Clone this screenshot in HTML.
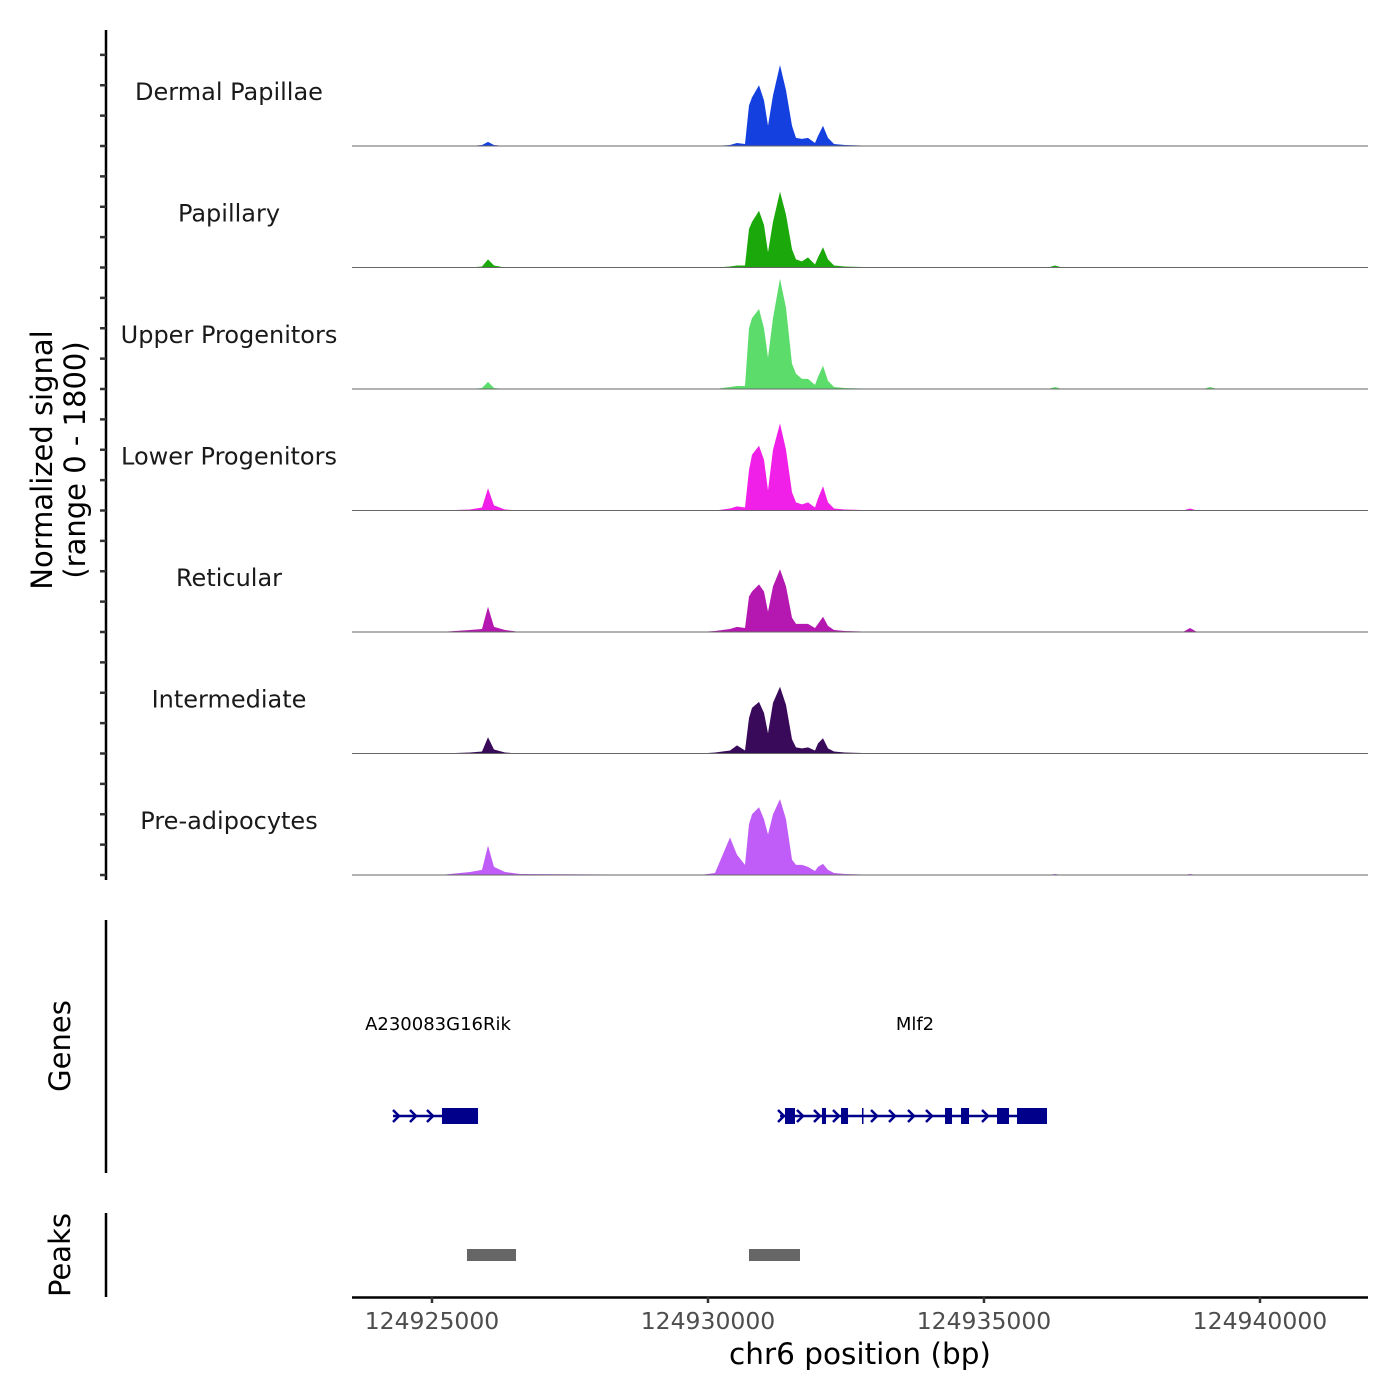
<!DOCTYPE html>
<html><head><meta charset="utf-8"><style>
html,body{margin:0;padding:0;background:#fff;}
svg{display:block;font-family:"DejaVu Sans","Liberation Sans",sans-serif;}
</style></head><body>
<svg id="chart" width="1400" height="1400" viewBox="0 0 1400 1400"></svg>
<script>
// ---- data ----
const trackNames = ["Dermal Papillae","Papillary","Upper Progenitors","Lower Progenitors","Reticular","Intermediate","Pre-adipocytes"];
const trackColors = ["#1540e0","#1aa80a","#5cdc6a","#f020e8","#b418b0","#3a0a5a","#c05cf8"];
const positions = [124923551,124925145,124925689,124925906,124926015,124926123,124926323,124926594,124929855,124930127,124930399,124930526,124930671,124930743,124930797,124930924,124931015,124931087,124931178,124931305,124931413,124931522,124931594,124931703,124931812,124931939,124931993,124932084,124932174,124932283,124932482,124933116,124936160,124936287,124936413,124938605,124938732,124938859,124938968,124939094,124939221,124941957];
// signal values (normalized, 0 - 1800)
const sigDermal = [0,0,0,15,60,15,0,0,0,0,15,45,30,600,720,900,675,300,750,1200,825,300,120,105,120,45,150,300,120,30,15,0,0,0,0,0,0,0,0,0,0,0];
const sigPapillary = [0,0,0,15,120,30,0,0,0,0,15,30,30,570,675,840,630,225,675,1125,780,270,120,90,150,45,150,300,120,30,15,0,0,30,0,0,0,0,0,0,0,0];
const sigUpper = [0,0,0,15,105,15,0,0,0,0,30,45,45,900,1050,1185,900,465,1050,1635,1200,375,225,150,150,60,180,345,120,30,15,0,0,30,0,0,0,0,0,30,0,0];
const sigLower = [0,0,15,45,330,75,15,0,0,0,30,60,45,600,825,960,750,300,900,1290,900,270,120,90,120,45,180,360,120,30,15,0,0,0,0,0,30,0,0,0,0,0];
const sigReticular = [0,0,30,45,375,75,30,0,0,15,45,75,60,525,600,705,600,300,675,930,675,210,120,120,120,60,120,225,90,30,15,0,0,0,0,0,60,0,0,0,0,0];
const sigIntermediate = [0,0,15,30,240,60,15,0,0,15,45,120,45,525,675,765,600,300,750,990,720,210,90,75,90,45,150,225,75,30,15,0,0,0,0,0,0,0,0,0,0,0];
const sigPreadipo = [0,0,45,75,435,120,45,15,0,30,555,300,150,750,900,1005,825,600,900,1125,825,225,150,150,120,60,120,165,75,30,15,0,0,15,0,0,15,0,0,0,0,0];
const signals = [sigDermal,sigPapillary,sigUpper,sigLower,sigReticular,sigIntermediate,sigPreadipo];
const xTicks = [124925000,124930000,124935000,124940000];
const xTickLabels = ["124925000","124930000","124935000","124940000"];
const geneNames = ["A230083G16Rik","Mlf2"];
const geneLabelPos = [124925109,124933750];
const geneStarts = [124924294,124931305];
const geneEnds = [124925834,124936142];
const exonStarts = [124925181,124931395,124932065,124932410,124932790,124934294,124934584,124935236,124935598];
const exonEnds = [124925834,124931576,124932138,124932537,124932808,124934421,124934729,124935453,124936142];
const chevrons = [124924348,124924656,124924964,124931323,124931667,124931975,124932319,124933008,124933334,124933678,124934004,124935019];
const peakStarts = [124925634,124930743];
const peakEnds = [124926522,124931667];

// ---- scales ----
const X0=352,X1=1368,D0=124923551,D1=124941957;
const xs = v => X0 + (v-D0)/(D1-D0)*(X1-X0);
const TRACK_TOP=24.5, TRACK_H=121.5, YMAX=1800;
const ys = (i,v) => TRACK_TOP + (i+1)*TRACK_H - v/YMAX*TRACK_H;
const NS="http://www.w3.org/2000/svg";
const svg=document.getElementById('chart');
function mk(tag,attrs,parent){const e=document.createElementNS(NS,tag);for(const k in attrs)e.setAttribute(k,attrs[k]);(parent||svg).appendChild(e);return e;}

// tracks
signals.forEach((s,i)=>{
  const g=mk('g',{});
  
  
  let d='M'+xs(positions[0])+','+ys(i,0);
  positions.forEach((p,j)=>{d+=' L'+xs(p).toFixed(1)+','+ys(i,s[j]).toFixed(1);});
  d+=' L'+xs(positions[positions.length-1])+','+ys(i,0)+' Z';
  const a=mk('path',{d:d,fill:trackColors[i],stroke:'none'},g);
  
  
  const b=mk('line',{x1:X0,x2:X1,y1:ys(i,0),y2:ys(i,0),stroke:'#666','stroke-width':1},g);
  
  
  const t=mk('text',{x:229,y:ys(i,0)-46,'text-anchor':'middle','font-size':24,fill:'#1a1a1a'},g);
  t.textContent=trackNames[i];
  
  
});
// left y axis
const ya=mk('line',{x1:106,x2:106,y1:30,y2:880,stroke:'#000','stroke-width':2.5});


for(let k=1;k<=28;k++){
  const y=TRACK_TOP+k*TRACK_H/4;
  const tk=mk('line',{x1:100,x2:106,y1:y,y2:y,stroke:'#333','stroke-width':2.5});
  
  
}
const yt=mk('text',{transform:'translate(52,460) rotate(-90)','text-anchor':'middle','font-size':29,fill:'#000'});


const t1=mk('tspan',{x:0,dy:0},yt);t1.textContent='Normalized signal';
const t2=mk('tspan',{x:0,dy:33},yt);t2.textContent='(range 0 - 1800)';

// genes
const ga=mk('line',{x1:106,x2:106,y1:920,y2:1173,stroke:'#000','stroke-width':2.5});


const gt=mk('text',{transform:'translate(70,1046) rotate(-90)','text-anchor':'middle','font-size':29,fill:'#000'});
gt.textContent='Genes';


const GY=1116;
geneNames.forEach((n,i)=>{
  const t=mk('text',{x:xs(geneLabelPos[i]),y:1030,'text-anchor':'middle','font-size':18,fill:'#000'});
  t.textContent=n;
  
  
  const l=mk('line',{x1:xs(geneStarts[i]),x2:xs(geneEnds[i]),y1:GY,y2:GY,stroke:'#00008b','stroke-width':2.5});
  
  
});
exonStarts.forEach((s,i)=>{
  const r=mk('rect',{x:xs(s),y:GY-8,width:Math.max(1.5,xs(exonEnds[i])-xs(s)),height:16,fill:'#00008b'});
  
  
});
chevrons.forEach(c=>{
  const x=xs(c);
  const p=mk('polyline',{points:(x-3)+','+(GY-6)+' '+(x+3)+','+GY+' '+(x-3)+','+(GY+6),fill:'none',stroke:'#00008b','stroke-width':2.5});
  
  
});

// peaks
const pa=mk('line',{x1:106,x2:106,y1:1213,y2:1297,stroke:'#000','stroke-width':2.5});


const pt=mk('text',{transform:'translate(70,1255) rotate(-90)','text-anchor':'middle','font-size':29,fill:'#000'});
pt.textContent='Peaks';


peakStarts.forEach((s,i)=>{
  const r=mk('rect',{x:xs(s),y:1249,width:xs(peakEnds[i])-xs(s),height:12,fill:'#666'});
  
  
});

// x axis
const xa=mk('line',{x1:X0,x2:X1,y1:1297.5,y2:1297.5,stroke:'#000','stroke-width':2.5});


xTicks.forEach((v,i)=>{
  const tk=mk('line',{x1:xs(v),x2:xs(v),y1:1297,y2:1303,stroke:'#333','stroke-width':2.5});
  
  
  const t=mk('text',{x:xs(v),y:1329,'text-anchor':'middle','font-size':23.5,fill:'#4d4d4d'});
  t.textContent=xTickLabels[i];
  
  
});
const xt=mk('text',{x:860,y:1364,'text-anchor':'middle','font-size':29.5,fill:'#000'});
xt.textContent='chr6 position (bp)';


</script>
</body></html>
